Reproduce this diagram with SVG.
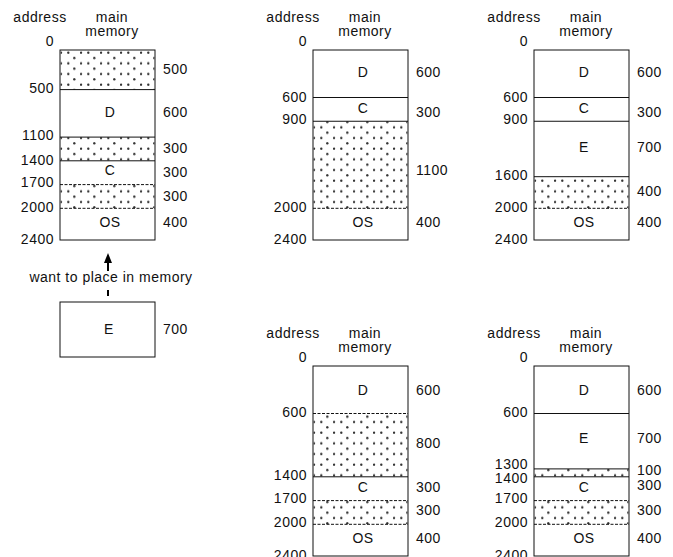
<svg xmlns="http://www.w3.org/2000/svg" width="673" height="557" viewBox="0 0 673 557">
<defs>
<pattern id="dots" patternUnits="userSpaceOnUse" x="0" y="0" width="20" height="10.667">
<circle cx="1" cy="2.7" r="1.2" fill="#333"/>
<circle cx="8.3" cy="2.7" r="1.2" fill="#333"/>
<circle cx="14.3" cy="8" r="1.2" fill="#333"/>
</pattern>
<style>
text { font-family: "Liberation Sans", Arial, Helvetica, sans-serif; font-size: 14px; letter-spacing: 0.5px; fill: #111; }
.r { text-anchor: end; }
.m { text-anchor: middle; }
.box { fill: #fff; stroke: #111; stroke-width: 1; }
.hole { fill: url(#dots); stroke: none; }
.dv { stroke: #111; stroke-width: 1; }
.dd { stroke: #111; stroke-width: 1; stroke-dasharray: 3 1.5; }
.conn { stroke: #000; stroke-width: 2; fill: none; }
</style>
</defs>

<!-- Panel 1: top-left -->
<g id="mem1" transform="translate(60,50)">
<text class="m" x="-20" y="-28.5">address</text>
<text class="m" x="52" y="-28.5">main</text>
<text class="m" x="52" y="-14">memory</text>
<text class="r" x="-6" y="-4.5">0</text>
<rect class="box" x="0" y="0" width="95" height="190"/>
<rect class="hole" x="0.5" y="0.5" width="94" height="39.1"/>
<rect class="hole" x="0.5" y="87.1" width="94" height="23.7"/>
<rect class="hole" x="0.5" y="134.6" width="94" height="23.7"/>
<line class="dv" x1="0" y1="39.6" x2="95" y2="39.6"/>
<line class="dv" x1="0" y1="87.1" x2="95" y2="87.1"/>
<line class="dv" x1="0" y1="110.8" x2="95" y2="110.8"/>
<line class="dd" x1="0" y1="134.6" x2="95" y2="134.6"/>
<line class="dd" x1="0" y1="158.3" x2="95" y2="158.3"/>
<text class="r" x="-6" y="42.7">500</text>
<text class="r" x="-6" y="90">1100</text>
<text class="r" x="-6" y="115">1400</text>
<text class="r" x="-6" y="137.3">1700</text>
<text class="r" x="-6" y="161.7">2000</text>
<text class="r" x="-6" y="194">2400</text>
<text x="103" y="24">500</text>
<text x="103" y="67">600</text>
<text x="103" y="103">300</text>
<text x="103" y="126.5">300</text>
<text x="103" y="150.5">300</text>
<text x="103" y="177">400</text>
<text class="m" x="50" y="67">D</text>
<text class="m" x="50" y="125">C</text>
<text class="m" x="50" y="176.7">OS</text>
</g>

<!-- Process E waiting -->
<g id="procE">
<rect class="box" x="60" y="302" width="95" height="55"/>
<text class="m" x="109" y="334">E</text>
<text x="163" y="334">700</text>
</g>

<!-- Panel 2: top-middle -->
<g id="mem2" transform="translate(313,50)">
<text class="m" x="-20" y="-28.5">address</text>
<text class="m" x="52" y="-28.5">main</text>
<text class="m" x="52" y="-14">memory</text>
<text class="r" x="-6" y="-4.5">0</text>
<rect class="box" x="0" y="0" width="95" height="190"/>
<rect class="hole" x="0.5" y="71.25" width="94" height="87.05"/>
<line class="dv" x1="0" y1="47.5" x2="95" y2="47.5"/>
<line class="dv" x1="0" y1="71.25" x2="95" y2="71.25"/>
<line class="dd" x1="0" y1="158.3" x2="95" y2="158.3"/>
<text class="r" x="-6" y="51.7">600</text>
<text class="r" x="-6" y="74">900</text>
<text class="r" x="-6" y="161.7">2000</text>
<text class="r" x="-6" y="194">2400</text>
<text x="103" y="26.7">600</text>
<text x="103" y="66.7">300</text>
<text x="103" y="125">1100</text>
<text x="103" y="177">400</text>
<text class="m" x="50" y="26.7">D</text>
<text class="m" x="50" y="63.3">C</text>
<text class="m" x="50" y="176.7">OS</text>
</g>

<!-- Panel 3: top-right -->
<g id="mem3" transform="translate(534,50)">
<text class="m" x="-20" y="-28.5">address</text>
<text class="m" x="52" y="-28.5">main</text>
<text class="m" x="52" y="-14">memory</text>
<text class="r" x="-6" y="-4.5">0</text>
<rect class="box" x="0" y="0" width="95" height="190"/>
<rect class="hole" x="0.5" y="126.7" width="94" height="31.6"/>
<line class="dv" x1="0" y1="47.5" x2="95" y2="47.5"/>
<line class="dv" x1="0" y1="71.25" x2="95" y2="71.25"/>
<line class="dv" x1="0" y1="126.7" x2="95" y2="126.7"/>
<line class="dd" x1="0" y1="158.3" x2="95" y2="158.3"/>
<text class="r" x="-6" y="51.7">600</text>
<text class="r" x="-6" y="74">900</text>
<text class="r" x="-6" y="130">1600</text>
<text class="r" x="-6" y="161.7">2000</text>
<text class="r" x="-6" y="194">2400</text>
<text x="103" y="27">600</text>
<text x="103" y="66.7">300</text>
<text x="103" y="101.7">700</text>
<text x="103" y="146">400</text>
<text x="103" y="177">400</text>
<text class="m" x="50" y="27">D</text>
<text class="m" x="50" y="63">C</text>
<text class="m" x="50" y="101.7">E</text>
<text class="m" x="50" y="176.7">OS</text>
</g>

<!-- Panel 4: bottom-middle -->
<g id="mem4" transform="translate(313,366)">
<text class="m" x="-20" y="-28.5">address</text>
<text class="m" x="52" y="-28.5">main</text>
<text class="m" x="52" y="-14">memory</text>
<text class="r" x="-6" y="-4.5">0</text>
<rect class="box" x="0" y="0" width="95" height="190"/>
<rect class="hole" x="0.5" y="47.5" width="94" height="63.3"/>
<rect class="hole" x="0.5" y="134.6" width="94" height="23.7"/>
<line class="dd" x1="0" y1="47.5" x2="95" y2="47.5"/>
<line class="dv" x1="0" y1="110.8" x2="95" y2="110.8"/>
<line class="dd" x1="0" y1="134.6" x2="95" y2="134.6"/>
<line class="dd" x1="0" y1="158.3" x2="95" y2="158.3"/>
<text class="r" x="-6" y="50.7">600</text>
<text class="r" x="-6" y="114">1400</text>
<text class="r" x="-6" y="137.3">1700</text>
<text class="r" x="-6" y="160.7">2000</text>
<text class="r" x="-6" y="194">2400</text>
<text x="103" y="29">600</text>
<text x="103" y="82.3">800</text>
<text x="103" y="125.7">300</text>
<text x="103" y="149">300</text>
<text x="103" y="177.3">400</text>
<text class="m" x="50" y="29">D</text>
<text class="m" x="50" y="125.7">C</text>
<text class="m" x="50" y="177.3">OS</text>
</g>

<!-- Panel 5: bottom-right -->
<g id="mem5" transform="translate(534,366)">
<text class="m" x="-20" y="-28.5">address</text>
<text class="m" x="52" y="-28.5">main</text>
<text class="m" x="52" y="-14">memory</text>
<text class="r" x="-6" y="-4.5">0</text>
<rect class="box" x="0" y="0" width="95" height="190"/>
<rect class="hole" x="0.5" y="102.9" width="94" height="7.9"/>
<rect class="hole" x="0.5" y="134.6" width="94" height="23.7"/>
<line class="dv" x1="0" y1="47.5" x2="95" y2="47.5"/>
<line class="dv" x1="0" y1="102.9" x2="95" y2="102.9"/>
<line class="dv" x1="0" y1="110.8" x2="95" y2="110.8"/>
<line class="dd" x1="0" y1="134.6" x2="95" y2="134.6"/>
<line class="dd" x1="0" y1="158.3" x2="95" y2="158.3"/>
<text class="r" x="-6" y="50.7">600</text>
<text class="r" x="-6" y="102.5">1300</text>
<text class="r" x="-6" y="117">1400</text>
<text class="r" x="-6" y="137.3">1700</text>
<text class="r" x="-6" y="160.7">2000</text>
<text class="r" x="-6" y="194">2400</text>
<text x="103" y="29">600</text>
<text x="103" y="77.3">700</text>
<text x="103" y="109">100</text>
<text x="103" y="124">300</text>
<text x="103" y="149">300</text>
<text x="103" y="177.3">400</text>
<text class="m" x="50" y="29">D</text>
<text class="m" x="50" y="77.3">E</text>
<text class="m" x="50" y="125.7">C</text>
<text class="m" x="50" y="177.3">OS</text>
</g>

<!-- Connectors -->
<g id="connectors">
<line class="conn" x1="108" y1="296" x2="108" y2="290"/>
<line class="conn" x1="108" y1="271" x2="108" y2="262"/>
<polygon points="108,253 104,263 112,263" fill="#000"/>
<text class="m" x="111" y="282">want to place in memory</text>
</g>
</svg>
